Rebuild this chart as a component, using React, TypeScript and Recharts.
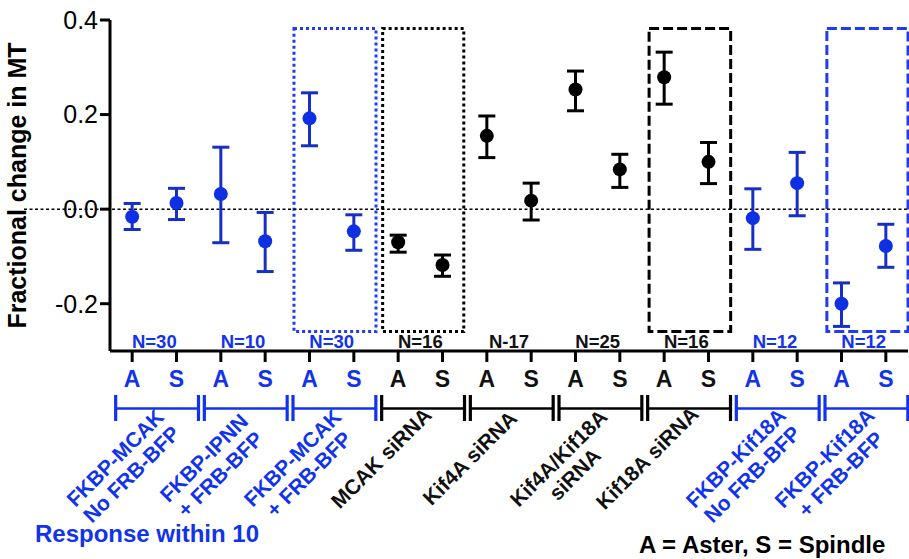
import React from 'react';
import {
  ScatterChart, Scatter, XAxis, YAxis, ErrorBar, ReferenceLine, ReferenceArea, Label,
} from 'recharts';

const FONT = '"Liberation Sans", Arial, Helvetica, sans-serif';
const BLUE = '#0f2fe4';
const BLUE_BAR = '#1630c4';
const BLUE_TEXT = '#1133ee';
const BLACK = '#000';

// groups (two points each: A = aster, S = spindle)
const GROUP_LABELS = [
  ['FKBP-MCAK', 'No FRB-BFP'],
  ['FKBP-IPNN', '+ FRB-BFP'],
  ['FKBP-MCAK', '+ FRB-BFP'],
  ['MCAK siRNA'],
  ['Kif4A siRNA'],
  ['Kif4A/Kif18A', 'siRNA'],
  ['Kif18A siRNA'],
  ['FKBP-Kif18A', 'No FRB-BFP'],
  ['FKBP-Kif18A', '+ FRB-BFP'],
];
const N_LABELS = ['N=30', 'N=10', 'N=30', 'N=16', 'N-17', 'N=25', 'N=16', 'N=12', 'N=12'];
const GROUP_BLUE = [true, true, true, false, false, false, false, true, true];
const POINT_LABELS = ['A', 'S'];

const MEANS = [-0.016, 0.013, 0.032, -0.068, 0.192, -0.047, -0.070, -0.118, 0.155, 0.018,
  0.253, 0.084, 0.279, 0.100, -0.019, 0.055, -0.200, -0.078];
const ERR_LOW = [0.027, 0.035, 0.103, 0.064, 0.058, 0.040, 0.021, 0.024, 0.046, 0.041,
  0.045, 0.038, 0.057, 0.046, 0.066, 0.069, 0.048, 0.045];
const ERR_HIGH = [0.028, 0.031, 0.099, 0.061, 0.054, 0.035, 0.015, 0.021, 0.042, 0.037,
  0.039, 0.032, 0.053, 0.041, 0.062, 0.065, 0.044, 0.046];

const Y_TICKS = [-0.2, 0, 0.2, 0.4];

// highlighted boxes in data units
const BOXES = [
  { x1: 3.65, x2: 5.5, y1: -0.259, y2: 0.382, blue: true, dash: '3 3' },
  { x1: 5.65, x2: 7.48, y1: -0.259, y2: 0.382, blue: false, dash: '3 3' },
  { x1: 11.66, x2: 13.5, y1: -0.259, y2: 0.382, blue: false, dash: '10 4' },
  { x1: 15.67, x2: 17.5, y1: -0.259, y2: 0.382, blue: true, dash: '10 4' },
];

const W = 909;
const H = 559;
const Y_AXIS_W = 110;
const PLOT_W = W - Y_AXIS_W - 1;
const STEP = PLOT_W / MEANS.length;

const points = MEANS.map((m, i) => ({
  x: i,
  y: m,
  err: [ERR_LOW[i], ERR_HIGH[i]],
  blue: GROUP_BLUE[Math.floor(i / 2)],
}));
const bluePoints = points.filter((p) => p.blue);
const blackPoints = points.filter((p) => !p.blue);

function XTick(props: any) {
  const { x, y, payload } = props;
  const i = payload.value as number;
  const g = Math.floor(i / 2);
  const isA = i % 2 === 0;
  const color = GROUP_BLUE[g] ? BLUE_TEXT : '#111';
  const lineColor = GROUP_BLUE[g] ? BLUE_TEXT : BLACK;
  return (
    <g fontFamily={FONT}>
      <text x={x} y={y + 25} textAnchor="middle" fontSize={23} fontWeight="bold" fill={color}>
        {POINT_LABELS[i % 2]}
      </text>
      {isA && (
        <g>
          <text x={x + STEP / 2} y={y - 14} textAnchor="middle" fontSize={18.5} fontWeight="bold" fill={color}>
            {N_LABELS[g]}
          </text>
          <line x1={x - 16.5} y1={y + 46.5} x2={x + STEP + 22} y2={y + 46.5} stroke={lineColor} strokeWidth={2.6} />
          <line x1={x - 16.5} y1={y + 33} x2={x - 16.5} y2={y + 59} stroke={lineColor} strokeWidth={3.2} />
          <line x1={x + STEP + 22} y1={y + 33} x2={x + STEP + 22} y2={y + 59} stroke={lineColor} strokeWidth={3.2} />
          <g transform={`translate(${x + STEP / 2},${y + 46}) rotate(-45)`}>
            {GROUP_LABELS[g].map((line, k) => (
              <text key={k} x={-63} y={15 + k * 23} textAnchor="middle" fontSize={21} fontWeight="bold" fill={color}>
                {line}
              </text>
            ))}
          </g>
        </g>
      )}
    </g>
  );
}

function YLabel(props: any) {
  const vb = props.viewBox;
  const cy = vb.y + vb.height / 2;
  return (
    <text x={26} y={cy} transform={`rotate(-90, 26, ${cy})`} textAnchor="middle"
      fontFamily={FONT} fontSize={25} fontWeight="bold" fill={BLACK}>
      Fractional change in MT
    </text>
  );
}

export default function App() {
  return (
    <div style={{ position: 'absolute', left: 0, top: 0, width: W, height: H, background: '#fff' }}>
      <ScatterChart width={W} height={H} margin={{ top: 20, right: 1, bottom: 0, left: 0 }}>
        <XAxis
          type="number"
          dataKey="x"
          domain={[-0.5, MEANS.length - 0.5]}
          ticks={MEANS.map((_, i) => i)}
          interval={0}
          height={208}
          stroke={BLACK}
          axisLine={{ stroke: BLACK, strokeWidth: 3 }}
          tickLine={{ stroke: BLACK, strokeWidth: 3 }}
          tickSize={11}
          tickMargin={0}
          tick={<XTick />}
          allowDataOverflow
        />
        <YAxis
          type="number"
          dataKey="y"
          domain={[-0.3, 0.4]}
          ticks={Y_TICKS}
          width={Y_AXIS_W}
          stroke={BLACK}
          axisLine={{ stroke: BLACK, strokeWidth: 3 }}
          tickLine={{ stroke: BLACK, strokeWidth: 3 }}
          tickSize={10}
          tickMargin={2}
          tick={{ fontSize: 25, fill: BLACK, fontFamily: FONT }}
          tickFormatter={(v: number) => v.toFixed(1)}
          allowDataOverflow
        >
          <Label content={<YLabel />} />
        </YAxis>
        <ReferenceLine
          y={0}
          shape={(p: any) => (
            <line x1={p.x1 - 86} y1={p.y1} x2={p.x2 + 2} y2={p.y2} stroke={BLACK} strokeWidth={1.5} strokeDasharray="3 2.5" />
          )}
        />
        {BOXES.map((b, i) => (
          <ReferenceArea
            key={i}
            x1={b.x1}
            x2={b.x2}
            y1={b.y1}
            y2={b.y2}
            fill="none"
            fillOpacity={0}
            stroke={b.blue ? '#1f3cf0' : BLACK}
            strokeWidth={3}
            strokeDasharray={b.dash}
            ifOverflow="visible"
          />
        ))}
        <Scatter
          data={bluePoints}
          isAnimationActive={false}
          shape={(p: any) => <circle cx={p.cx} cy={p.cy} r={7} fill={BLUE} />}
        >
          <ErrorBar dataKey="err" direction="y" width={8.5} strokeWidth={3} stroke={BLUE_BAR} isAnimationActive={false} />
        </Scatter>
        <Scatter
          data={blackPoints}
          isAnimationActive={false}
          shape={(p: any) => <circle cx={p.cx} cy={p.cy} r={7} fill={BLACK} />}
        >
          <ErrorBar dataKey="err" direction="y" width={8.5} strokeWidth={3} stroke={BLACK} isAnimationActive={false} />
        </Scatter>
      </ScatterChart>
      <svg width={W} height={H} style={{ position: 'absolute', left: 0, top: 0, pointerEvents: 'none' }}>
        <text x={35} y={542} fontFamily={FONT} fontSize={24} fontWeight="bold" fill={BLUE_TEXT}>
          Response within 10
        </text>
        <text x={639} y={553} fontFamily={FONT} fontSize={24} fontWeight="bold" fill={BLACK}>
          A = Aster, S = Spindle
        </text>
      </svg>
    </div>
  );
}
